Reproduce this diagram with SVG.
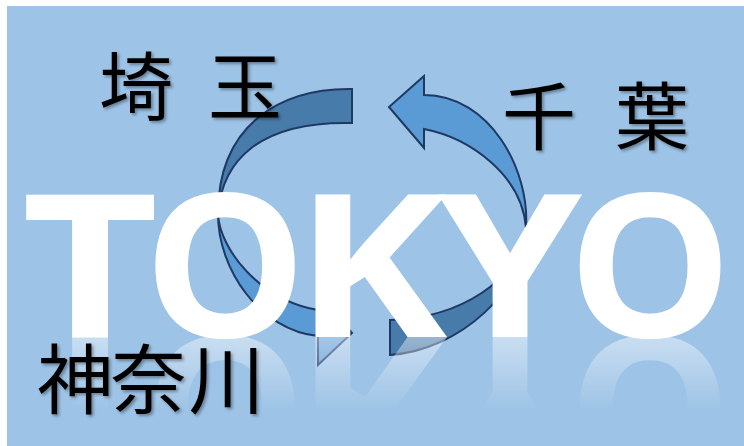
<svg xmlns="http://www.w3.org/2000/svg" xmlns:xlink="http://www.w3.org/1999/xlink" width="744" height="446" viewBox="0 0 744 446">
  <style>
    .dark { fill: #477BAA; stroke: #1F3864; stroke-width: 2; stroke-linejoin: miter; }
    .light { fill: #5B9BD5; stroke: #1F3864; stroke-width: 2; stroke-linejoin: miter; }
    .big { font-family: "Open Sans", "Noto Sans", "Liberation Sans", sans-serif; font-weight: 700; font-size: 199px; fill: #FFFFFF; text-anchor: middle; }
    .jp { font-family: "Noto Sans CJK JP", "Noto Sans CJK SC", sans-serif; font-weight: 400; fill: #000000; text-anchor: middle; filter: url(#shadow); }
  </style>
  <defs>
    <filter id="shadow" x="-20%" y="-20%" width="150%" height="150%">
      <feDropShadow dx="2" dy="2" stdDeviation="1.5" flood-color="#000" flood-opacity="0.35"/>
    </filter>
    <linearGradient id="fade" gradientUnits="userSpaceOnUse" x1="0" y1="337" x2="0" y2="412">
      <stop offset="0" stop-color="#FFFFFF" stop-opacity="0.45"/>
      <stop offset="1" stop-color="#FFFFFF" stop-opacity="0"/>
    </linearGradient>
    <mask id="reflMask" maskUnits="userSpaceOnUse" x="0" y="337" width="744" height="109">
      <rect x="0" y="337" width="744" height="109" fill="url(#fade)"/>
    </mask>
  </defs>

  <g id="background">
    <rect x="0" y="0" width="744" height="446" fill="#FFFFFF"/>
    <rect x="7" y="6" width="737" height="440" fill="#9DC3E6"/>
  </g>

  <g id="connectors">
    <g id="arrow-left">
      <path class="dark" d="M352,89 C280,88 218,125 218,214 C222,160 260,121 352,123 Z"/>
      <path class="light" d="M218,214 C220,250 260,300 318,310 L318,293 L352,333 L318,365 L318,336 C260,330 218,270 218,214 Z"/>
    </g>
    <g id="arrow-right">
      <path class="dark" d="M526,228 C520,280 460,318 390,320 L390,355 C460,350 526,290 526,228 Z"/>
      <path class="light" d="M526,228 C530,170 490,95 424,95 L424,76 L389,107 L424,148 L424,129 C470,138 522,175 526,228 Z"/>
    </g>
  </g>

  <g id="tokyo">
    <text class="big" transform="translate(90,337) scale(1.19,1)">T</text>
    <text class="big" transform="translate(225,337) scale(1.03,1)">O</text>
    <text class="big" transform="translate(371,337) scale(1.15,1)">K</text>
    <text class="big" transform="translate(510,337) scale(1.16,1)">Y</text>
    <text class="big" transform="translate(650,337) scale(1.04,1)">O</text>
  </g>

  <g id="tokyo-reflection" mask="url(#reflMask)">
    <use xlink:href="#tokyo" href="#tokyo" transform="translate(0,674) scale(1,-1)"/>
  </g>

  <g id="label-saitama">
    <text class="jp" font-size="74" x="136" y="114">埼</text>
    <text class="jp" font-size="74" x="245" y="114">玉</text>
  </g>
  <g id="label-chiba">
    <text class="jp" font-size="74" x="539" y="144">千</text>
    <text class="jp" font-size="74" x="652" y="144">葉</text>
  </g>
  <g id="label-kanagawa">
    <text class="jp" font-size="76" x="75" y="408">神</text>
    <text class="jp" font-size="76" x="148.5" y="408">奈</text>
    <text class="jp" font-size="76" x="226.5" y="408">川</text>
  </g>
</svg>
